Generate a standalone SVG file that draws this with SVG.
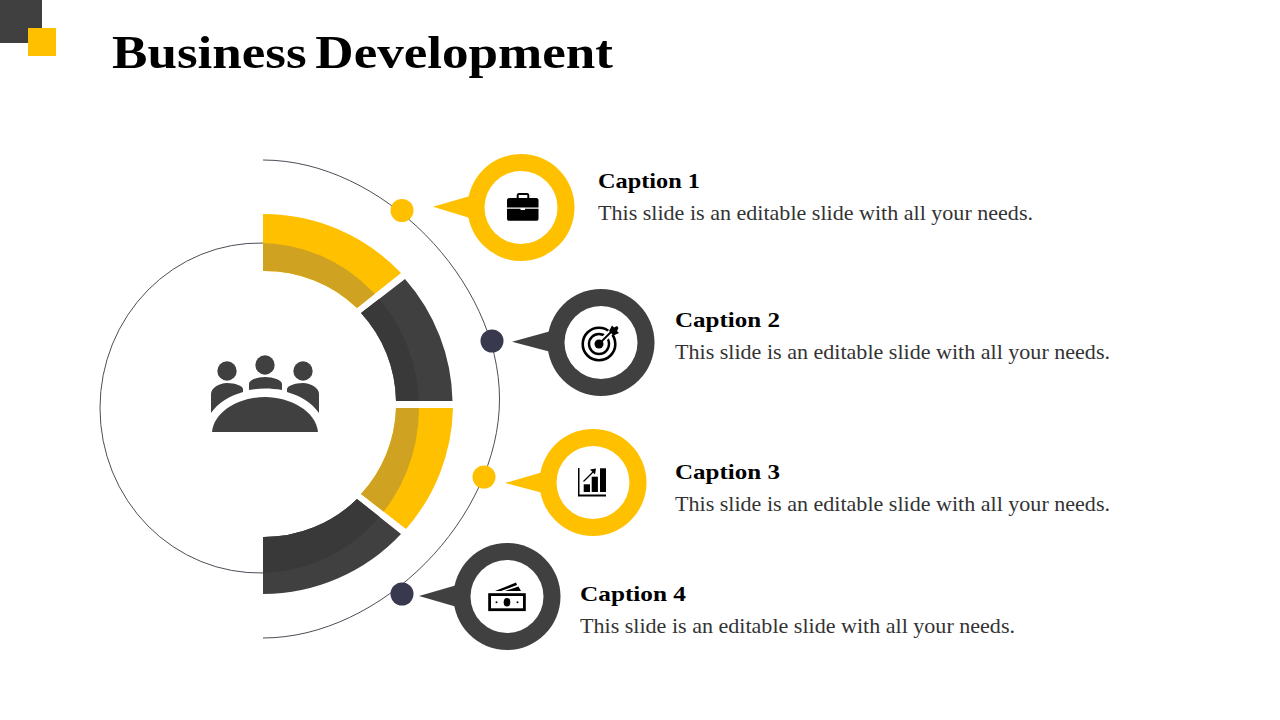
<svg xmlns="http://www.w3.org/2000/svg" xmlns:xlink="http://www.w3.org/1999/xlink" width="1280" height="720" viewBox="0 0 1280 720">
<style>
.y{fill:#FFC000}.d{fill:#404040}.k{fill:#000}.w{fill:#fff}
.dot{fill:#38384F}
.line{fill:none;stroke:#4a4f57;stroke-width:1}
.title{font:bold 46px "Liberation Serif",serif;fill:#000;word-spacing:-4px}
.cap{font:bold 22px "Liberation Serif",serif;fill:#000}
.body{font:21px "Liberation Serif",serif;fill:#333}
</style>
<defs>
<clipPath id="inner"><ellipse cx="259.5" cy="408" rx="159.5" ry="165"/></clipPath>
<path id="s1" d="M263,214A190,190 0 0 1 401,273L357,308A133,133 0 0 0 263,271Z"/>
<path id="s2" d="M405,279A190,190 0 0 1 452.500,401H396A133,133 0 0 0 361,313Z"/>
<path id="s3" d="M396,408H453A190,190 0 0 1 406,529L361,494A133,133 0 0 0 396,408Z"/>
<path id="s4" d="M357,499L401,534A190,190 0 0 1 263,594V537A133,133 0 0 0 357,499Z"/>
</defs>
<rect width="1280" height="720" fill="#fff"/>
<g id="corner"><rect width="42" height="43" class="d"/><rect x="28" y="28" width="28" height="28" class="y"/></g>
<text class="title" x="112" y="68" textLength="501" lengthAdjust="spacingAndGlyphs">Business Development</text>

<g id="connectors">
<path class="line" d="M263,160C381,160 499.500,280 499.500,399C499.500,518 381,638 263,638"/>
<path class="line" d="M263,243.040A159.500,165 0 0 0 100,408A159.500,165 0 0 0 263,572.960"/>
</g>

<g id="ring">
<use xlink:href="#s1" class="y"/><use xlink:href="#s2" class="d"/><use xlink:href="#s3" class="y"/><use xlink:href="#s4" class="d"/>
<g clip-path="url(#inner)">
<use xlink:href="#s1" fill="#CFA321"/><use xlink:href="#s2" fill="#393939"/><use xlink:href="#s3" fill="#CFA321"/><use xlink:href="#s4" fill="#393939"/>
</g>
</g>

<g id="center-icon" class="d">
<circle cx="227" cy="371" r="9.700"/><circle cx="265" cy="365" r="9.700"/><circle cx="303" cy="371" r="9.700"/>
<path d="M211,413V394C211,388 219,383 227,383C235,383 243,386 243,389V392C229,396 218,403 211,413Z"/>
<path d="M319,413V394C319,388 311,383 303,383C295,383 287,386 287,389V392C301,396 312,403 319,413Z"/>
<path d="M249,390V384C249,380 257,377 265,377C273,377 282,380 282,384V390C271,388 259,388 249,390Z"/>
<path d="M212,432C214,411 240,397 265,397C290,397 316,411 318,432Z"/>
</g>

<g id="node1">
<circle class="y" cx="402" cy="210.500" r="11.500"/>
<path class="y" d="M433,206.700L470,196V218Z"/>
<circle class="y" cx="521" cy="207.500" r="53.500"/><circle class="w" cx="521" cy="207.500" r="36.500"/>
<g id="briefcase">
<path class="k" d="M509,198H516.700V195.500C516.700,193.800 518,193 519,193H527C528,193 529.300,193.800 529.300,195.500V198H536.500C537.500,198 538.500,199 538.500,200V207.500H507V200C507,199 508,198 509,198ZM518.700,198H527.300V195H518.700Z" fill-rule="evenodd"/>
<path class="k" d="M507,208.700H520.500V210H525V208.700H538.500V219C538.500,220 537.500,220.800 536.500,220.800H509C508,220.800 507,220 507,219Z"/>
</g>
<text class="cap" x="598" y="188" textLength="102" lengthAdjust="spacingAndGlyphs">Caption 1</text>
<text class="body" x="598" y="220" textLength="435" lengthAdjust="spacingAndGlyphs">This slide is an editable slide with all your needs.</text>
</g>

<g id="node2">
<circle class="dot" cx="492" cy="341" r="11.500"/>
<path class="d" d="M512,341.700L551,331V352Z"/>
<circle class="d" cx="601" cy="342.500" r="53.500"/><circle class="w" cx="601" cy="342.500" r="36.500"/>
<g id="target">
<circle cx="599" cy="344" r="16.300" fill="none" stroke="#000" stroke-width="2.600"/>
<circle cx="599" cy="344" r="10" fill="none" stroke="#000" stroke-width="2.400"/>
<path d="M599,344L616,327" stroke="#fff" stroke-width="6" fill="none"/>
<circle class="k" cx="599" cy="344" r="4.500"/>
<path d="M599,344L613,330" stroke="#000" stroke-width="1.800" fill="none"/>
<path class="k" d="M609,331L612,325.500L614,327.500L617,326L618.500,328L617,331L619,333L613.500,335.500Z"/>
</g>
<text class="cap" x="675" y="327" textLength="105" lengthAdjust="spacingAndGlyphs">Caption 2</text>
<text class="body" x="675" y="359" textLength="435" lengthAdjust="spacingAndGlyphs">This slide is an editable slide with all your needs.</text>
</g>

<g id="node3">
<circle class="y" cx="484" cy="477" r="11.500"/>
<path class="y" d="M505,483L543,472V493Z"/>
<circle class="y" cx="593" cy="482.500" r="53.500"/><circle class="w" cx="593" cy="482.500" r="36.500"/>
<g id="chart" class="k">
<path d="M578,468H579.500V494.500H606V496.500H578Z"/>
<rect x="583.700" y="484.300" width="6.300" height="7.700"/>
<rect x="591.700" y="476.700" width="6.200" height="15.300"/>
<rect x="600" y="468.300" width="6" height="23.700"/>
<path d="M583.500,481.500L593,472" stroke="#000" stroke-width="1.300" fill="none"/>
<path d="M590,469.500L596,468.500L595,474.500Z"/>
</g>
<text class="cap" x="675" y="479" textLength="105" lengthAdjust="spacingAndGlyphs">Caption 3</text>
<text class="body" x="675" y="511" textLength="435" lengthAdjust="spacingAndGlyphs">This slide is an editable slide with all your needs.</text>
</g>

<g id="node4">
<circle class="dot" cx="402" cy="594" r="11.500"/>
<path class="d" d="M419,596L457,585V607Z"/>
<circle class="d" cx="507" cy="596.500" r="53.500"/><circle class="w" cx="507" cy="596.500" r="36.500"/>
<g id="money">
<rect x="489.600" y="594.600" width="34.800" height="15.100" fill="none" stroke="#000" stroke-width="2.800"/>
<ellipse class="k" cx="507" cy="602.300" rx="3.300" ry="4.300"/>
<circle class="k" cx="496.500" cy="602.300" r="1"/><circle class="k" cx="517.500" cy="602.300" r="1"/>
<path class="k" d="M495,591L516,582.500L517,585L501,591ZM505,591L518.500,586.500L521,591Z"/>
</g>
<text class="cap" x="580" y="601" textLength="106" lengthAdjust="spacingAndGlyphs">Caption 4</text>
<text class="body" x="580" y="633" textLength="435" lengthAdjust="spacingAndGlyphs">This slide is an editable slide with all your needs.</text>
</g>
</svg>
